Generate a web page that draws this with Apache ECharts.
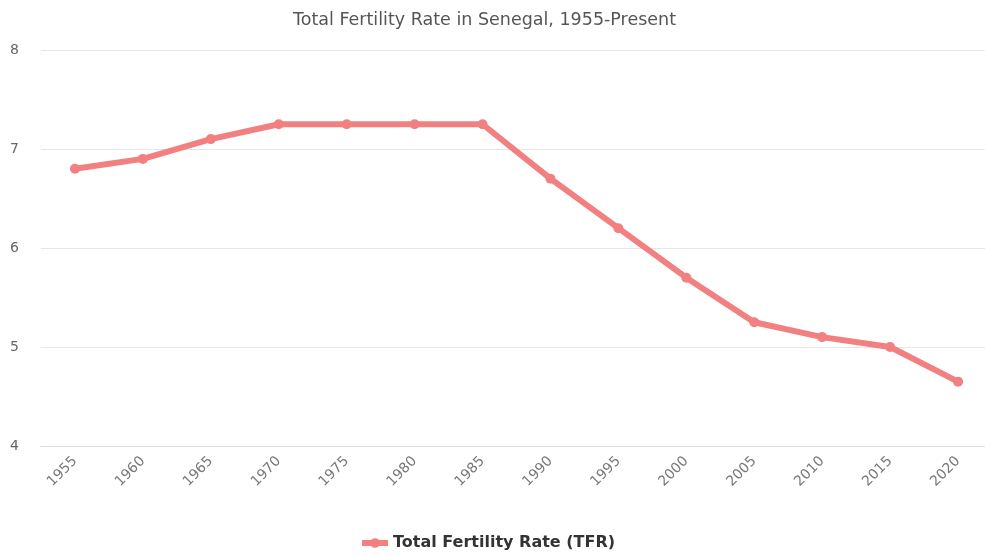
<!DOCTYPE html>
<html>
<head>
<meta charset="utf-8">
<script src="https://cdn.jsdelivr.net/npm/echarts@6/dist/echarts.min.js"></script>
<style>
  html, body { margin: 0; padding: 0; background: #fff; }
  #main { width: 985px; height: 556px; }
</style>
</head>
<body>
<div id="main"></div>
<script>
const years = ['1955', '1960', '1965', '1970', '1975', '1980', '1985', '1990', '1995', '2000', '2005', '2010', '2015', '2020']
const tfr = [6.8, 6.9, 7.1, 7.25, 7.25, 7.25, 7.25, 6.7, 6.2, 5.7, 5.25, 5.1, 5.0, 4.65]
const seriesName = 'Total Fertility Rate (TFR)'

const chart = echarts.init(document.getElementById('main'), null, { renderer: 'canvas' })

chart.setOption({
    animation: false,
    textStyle: { fontFamily: 'DejaVu Sans' },
    title: {
        text: 'Total Fertility Rate in Senegal, 1955-Present',
        left: 288,
        top: 6,
        textStyle: {
            color: '#555',
            fontSize: 17.5,
            fontWeight: 'normal',
        },
    },
    grid: {
        top: 50,
        left: 41,
        width: 951,
        height: 396,
        outerBoundsMode: 'none',
    },
    legend: {
        top: 530,
        left: 354,
        itemWidth: 26,
        itemHeight: 12,
        itemGap: 6,
        lineStyle: { width: 6 },
        textStyle: {
            color: '#333',
            fontSize: 16,
            fontWeight: 'bold',
        },
        data: [seriesName],
    },
    xAxis: {
        type: 'category',
        data: years,
        boundaryGap: true,
        axisTick: { show: false },
        axisLine: { lineStyle: { color: '#ddd' } },
        axisLabel: {
            color: '#777',
            fontSize: 14,
            rotate: 45,
            margin: 13,
        },
    },
    yAxis: {
        type: 'value',
        min: 4,
        max: 8,
        interval: 1,
        axisLine: { show: false },
        axisTick: { show: false },
        axisLabel: {
            color: '#666',
            fontSize: 14,
            margin: 22,
        },
        splitLine: {
            lineStyle: { color: '#e6e6e6' },
        },
    },
    series: [{
        name: seriesName,
        type: 'line',
        data: tfr,
        symbol: 'circle',
        symbolSize: 10,
        itemStyle: { color: '#f28080' },
        lineStyle: { width: 6, color: '#f28080' },
    }],
})

window.addEventListener('resize', () => {
    if (chart) chart.resize()
})
</script>
</body>
</html>
